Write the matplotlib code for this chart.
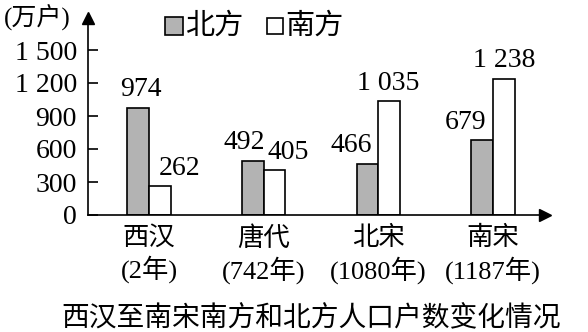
import matplotlib
matplotlib.use("Agg")
import matplotlib.pyplot as plt
from matplotlib.patches import Rectangle
import numpy as np

categories = ["西汉\n(2年)", "唐代\n(742年)", "北宋\n(1080年)", "南宋\n(1187年)"]
series_names = ["北方", "南方"]
north = [974, 492, 466, 679]
south = [262, 405, 1035, 1238]
north_labels = ["974", "492", "466", "679"]
south_labels = ["262", "405", "1 035", "1 238"]
yticks = [0, 300, 600, 900, 1200, 1500]
ytick_labels = ["0", "300", "600", "900", "1 200", "1 500"]
unit_label = "(万户)"
title = "西汉至南宋南方和北方人口户数变化情况"

FONT = ["Liberation Serif", "Noto Sans CJK SC"]
plt.rcParams['font.family'] = FONT

W, H = 588, 332
fig = plt.figure(figsize=(W/100, H/100), dpi=100)
ax = fig.add_axes([88/W, (H-215)/H, (545-88)/W, (215-18)/H])

x = np.arange(len(categories))
bw = 0.19
gray = "#b3b3b3"
ax.bar(x - bw/2, north, width=bw, color=gray, edgecolor="black", linewidth=1.2)
ax.bar(x + bw/2, south, width=bw, color="white", edgecolor="black", linewidth=1.2)

ymax = (215-18)/33*300
ax.set_ylim(0, ymax)
ax.set_xlim(-0.532, 3.453)

for s in ["top", "right"]:
    ax.spines[s].set_visible(False)
for s in ["left", "bottom"]:
    ax.spines[s].set_linewidth(1.2)

ax.plot(0, 1, marker="^", transform=ax.transAxes, color="black", ms=8, clip_on=False)
ax.plot(1, 0, marker=">", transform=ax.transAxes, color="black", ms=8, clip_on=False)

ax.set_yticks(yticks)
ax.set_yticklabels(ytick_labels, fontsize=20)
ax.tick_params(axis="y", direction="in", length=7, width=1.2, pad=8)
ax.set_xticks(x)
ax.set_xticklabels(categories, fontsize=19, linespacing=1.25)
ax.tick_params(axis="x", length=0, pad=8)

nx_off = [2, -6, -12, -12]
sx_off = [14, 10, -1, 0]
for i in range(len(x)):
    ax.annotate(north_labels[i], (x[i] - bw/2, north[i]), xytext=(nx_off[i], 4),
                textcoords="offset points", ha="center", va="bottom", fontsize=20)
    ax.annotate(south_labels[i], (x[i] + bw/2, south[i]), xytext=(sx_off[i], 4),
                textcoords="offset points", ha="center", va="bottom", fontsize=20)

fig.text(4/W, 1 - 17/H, unit_label, fontsize=18, ha="left", va="center")

fig.patches.append(Rectangle((165/W, 1 - 35/H), 18/W, 18/H, transform=fig.transFigure,
                             facecolor=gray, edgecolor="black", linewidth=1.2))
fig.text(185/W, 1 - 26/H, series_names[0], fontsize=21, ha="left", va="center")
fig.patches.append(Rectangle((267/W, 1 - 34/H), 16/W, 16/H, transform=fig.transFigure,
                             facecolor="white", edgecolor="black", linewidth=1.2))
fig.text(285/W, 1 - 26/H, series_names[1], fontsize=21, ha="left", va="center")

fig.text(311/W, 1 - 319/H, title, fontsize=20, ha="center", va="center")

fig.savefig("out.png", dpi=100)
